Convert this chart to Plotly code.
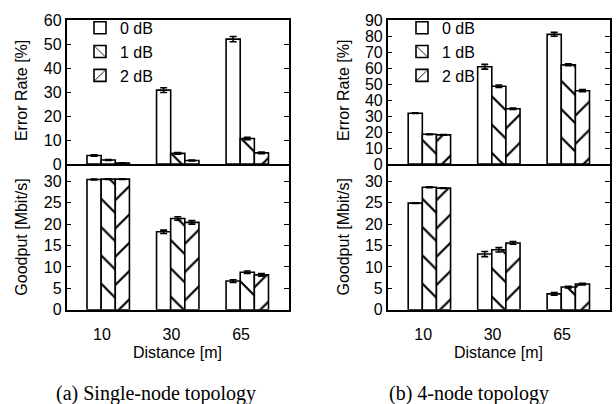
import plotly.graph_objects as go

distances = ["10", "30", "65"]
series = ["0 dB", "1 dB", "2 dB"]
patterns = ["", "\\", "/"]

# (a) Single-node topology
err_a = [[3.6, 30.9, 52.2], [1.7, 4.5, 10.7], [0.5, 1.5, 4.7]]
err_a_e = [[0.3, 1.0, 1.1], [0.2, 0.3, 0.5], [0.1, 0.2, 0.3]]
gp_a = [[30.4, 18.2, 6.7], [30.5, 21.3, 8.75], [30.5, 20.4, 8.15]]
gp_a_e = [[0.1, 0.4, 0.3], [0.1, 0.4, 0.3], [0.1, 0.4, 0.3]]

# (b) 4-node topology
err_b = [[31.9, 61.0, 81.3], [18.7, 48.8, 62.2], [18.3, 34.7, 46.0]]
err_b_e = [[0.2, 1.5, 1.2], [0.2, 0.8, 0.6], [0.2, 0.4, 0.7]]
gp_b = [[24.9, 13.0, 3.7], [28.6, 14.0, 5.3], [28.4, 15.6, 6.0]]
gp_b_e = [[0.1, 0.6, 0.3], [0.1, 0.5, 0.2], [0.1, 0.3, 0.2]]

W, H = 616, 404
xpos = list(range(len(distances)))

fig = go.Figure()

def add_panel(vals, errs, xa, ya, legend, showlegend):
    for i, name in enumerate(series):
        fig.add_trace(go.Bar(
            x=xpos, y=vals[i], name=name,
            xaxis=xa, yaxis=ya,
            legend=legend, showlegend=showlegend,
            marker=dict(color="white", line=dict(color="black", width=1.6),
                        pattern=dict(shape=patterns[i], fgcolor="black", bgcolor="white",
                                     fgopacity=1, size=20, solidity=0.11, fillmode="replace")),
            error_y=dict(type="data", array=errs[i], color="black", thickness=1.6, width=3.5),
        ))

add_panel(err_a, err_a_e, "x", "y", "legend", True)
add_panel(gp_a, gp_a_e, "x2", "y2", "legend", False)
add_panel(err_b, err_b_e, "x3", "y3", "legend2", True)
add_panel(gp_b, gp_b_e, "x4", "y4", "legend2", False)

def px(v):
    return v / W

def py(v):
    return 1 - v / H

dom_left = [px(66.5), px(289)]
dom_right = [px(387.7), px(610)]
dom_top = [py(163), py(13)]
dom_bot = [py(315), py(163)]

tickfont = dict(family="Liberation Sans, Arial", size=16, color="black")
tick_off = -0.09

def xax(domain, anchor, show):
    d = dict(domain=domain, anchor=anchor, range=[-0.6, 2.6],
             showline=True, linecolor="black", linewidth=1.5, mirror=(not show),
             showgrid=False, zeroline=False, ticks="", tickfont=tickfont)
    if show:
        d.update(tickmode="array", tickvals=[p + tick_off for p in xpos], ticktext=distances,
                 showticklabels=True, ticklabelstandoff=9)
    else:
        d.update(showticklabels=False)
    return d

def yax(domain, anchor, rng, tickvals):
    return dict(domain=domain, anchor=anchor, range=rng, tickmode="array", tickvals=tickvals,
                showline=True, linecolor="black", linewidth=1.5, mirror="allticks",
                ticks="inside", ticklen=5, tickwidth=1.4, tickcolor="black",
                showgrid=False, zeroline=False, tickfont=tickfont)

fig.update_layout(
    width=W, height=H, margin=dict(l=0, r=0, t=0, b=0),
    paper_bgcolor="white", plot_bgcolor="white",
    barmode="group", bargap=0.39, bargroupgap=0,
    font=dict(family="Liberation Sans, Arial", size=16, color="black"),
    xaxis=xax(dom_left, "y", False),
    yaxis=yax(dom_top, "x", [0, 60], list(range(0, 61, 10))),
    xaxis2=xax(dom_left, "y2", True),
    yaxis2=yax(dom_bot, "x2", [0, 34], list(range(0, 31, 5))),
    xaxis3=xax(dom_right, "y3", False),
    yaxis3=yax(dom_top, "x3", [0, 90], list(range(0, 91, 10))),
    xaxis4=xax(dom_right, "y4", True),
    yaxis4=yax(dom_bot, "x4", [0, 34], list(range(0, 31, 5))),
    legend=dict(x=px(80), y=py(3), xanchor="left", yanchor="top",
                bgcolor="rgba(0,0,0,0)", font=dict(size=16), tracegroupgap=0,
                itemwidth=30),
    legend2=dict(x=px(402), y=py(3), xanchor="left", yanchor="top",
                 bgcolor="rgba(0,0,0,0)", font=dict(size=16), tracegroupgap=0,
                 itemwidth=30),
    showlegend=True,
)

ann = []
for xc, yc, text in [(21.7, 86, "Error Rate [%]"), (21.7, 239, "Goodput [Mbit/s]"),
                     (343.6, 86, "Error Rate [%]"), (343.6, 239, "Goodput [Mbit/s]")]:
    ann.append(dict(x=px(xc), y=py(yc), xref="paper", yref="paper", text=text,
                    showarrow=False, textangle=-90, xanchor="center", yanchor="middle",
                    font=dict(family="Liberation Sans, Arial", size=16, color="black")))
for xc, text in [(177.5, "Distance [m]"), (498.8, "Distance [m]")]:
    ann.append(dict(x=px(xc), y=py(360), xref="paper", yref="paper", text=text,
                    showarrow=False, xanchor="center", yanchor="middle",
                    font=dict(family="Liberation Sans, Arial", size=16, color="black")))
for xc, text in [(155.8, "(a) Single-node topology"), (469, "(b) 4-node topology")]:
    ann.append(dict(x=px(xc), y=py(402), xref="paper", yref="paper", text=text,
                    showarrow=False, xanchor="center", yanchor="middle",
                    font=dict(family="Liberation Serif, Times New Roman", size=20, color="black")))
fig.update_layout(annotations=ann)

fig.write_html("out.html")
